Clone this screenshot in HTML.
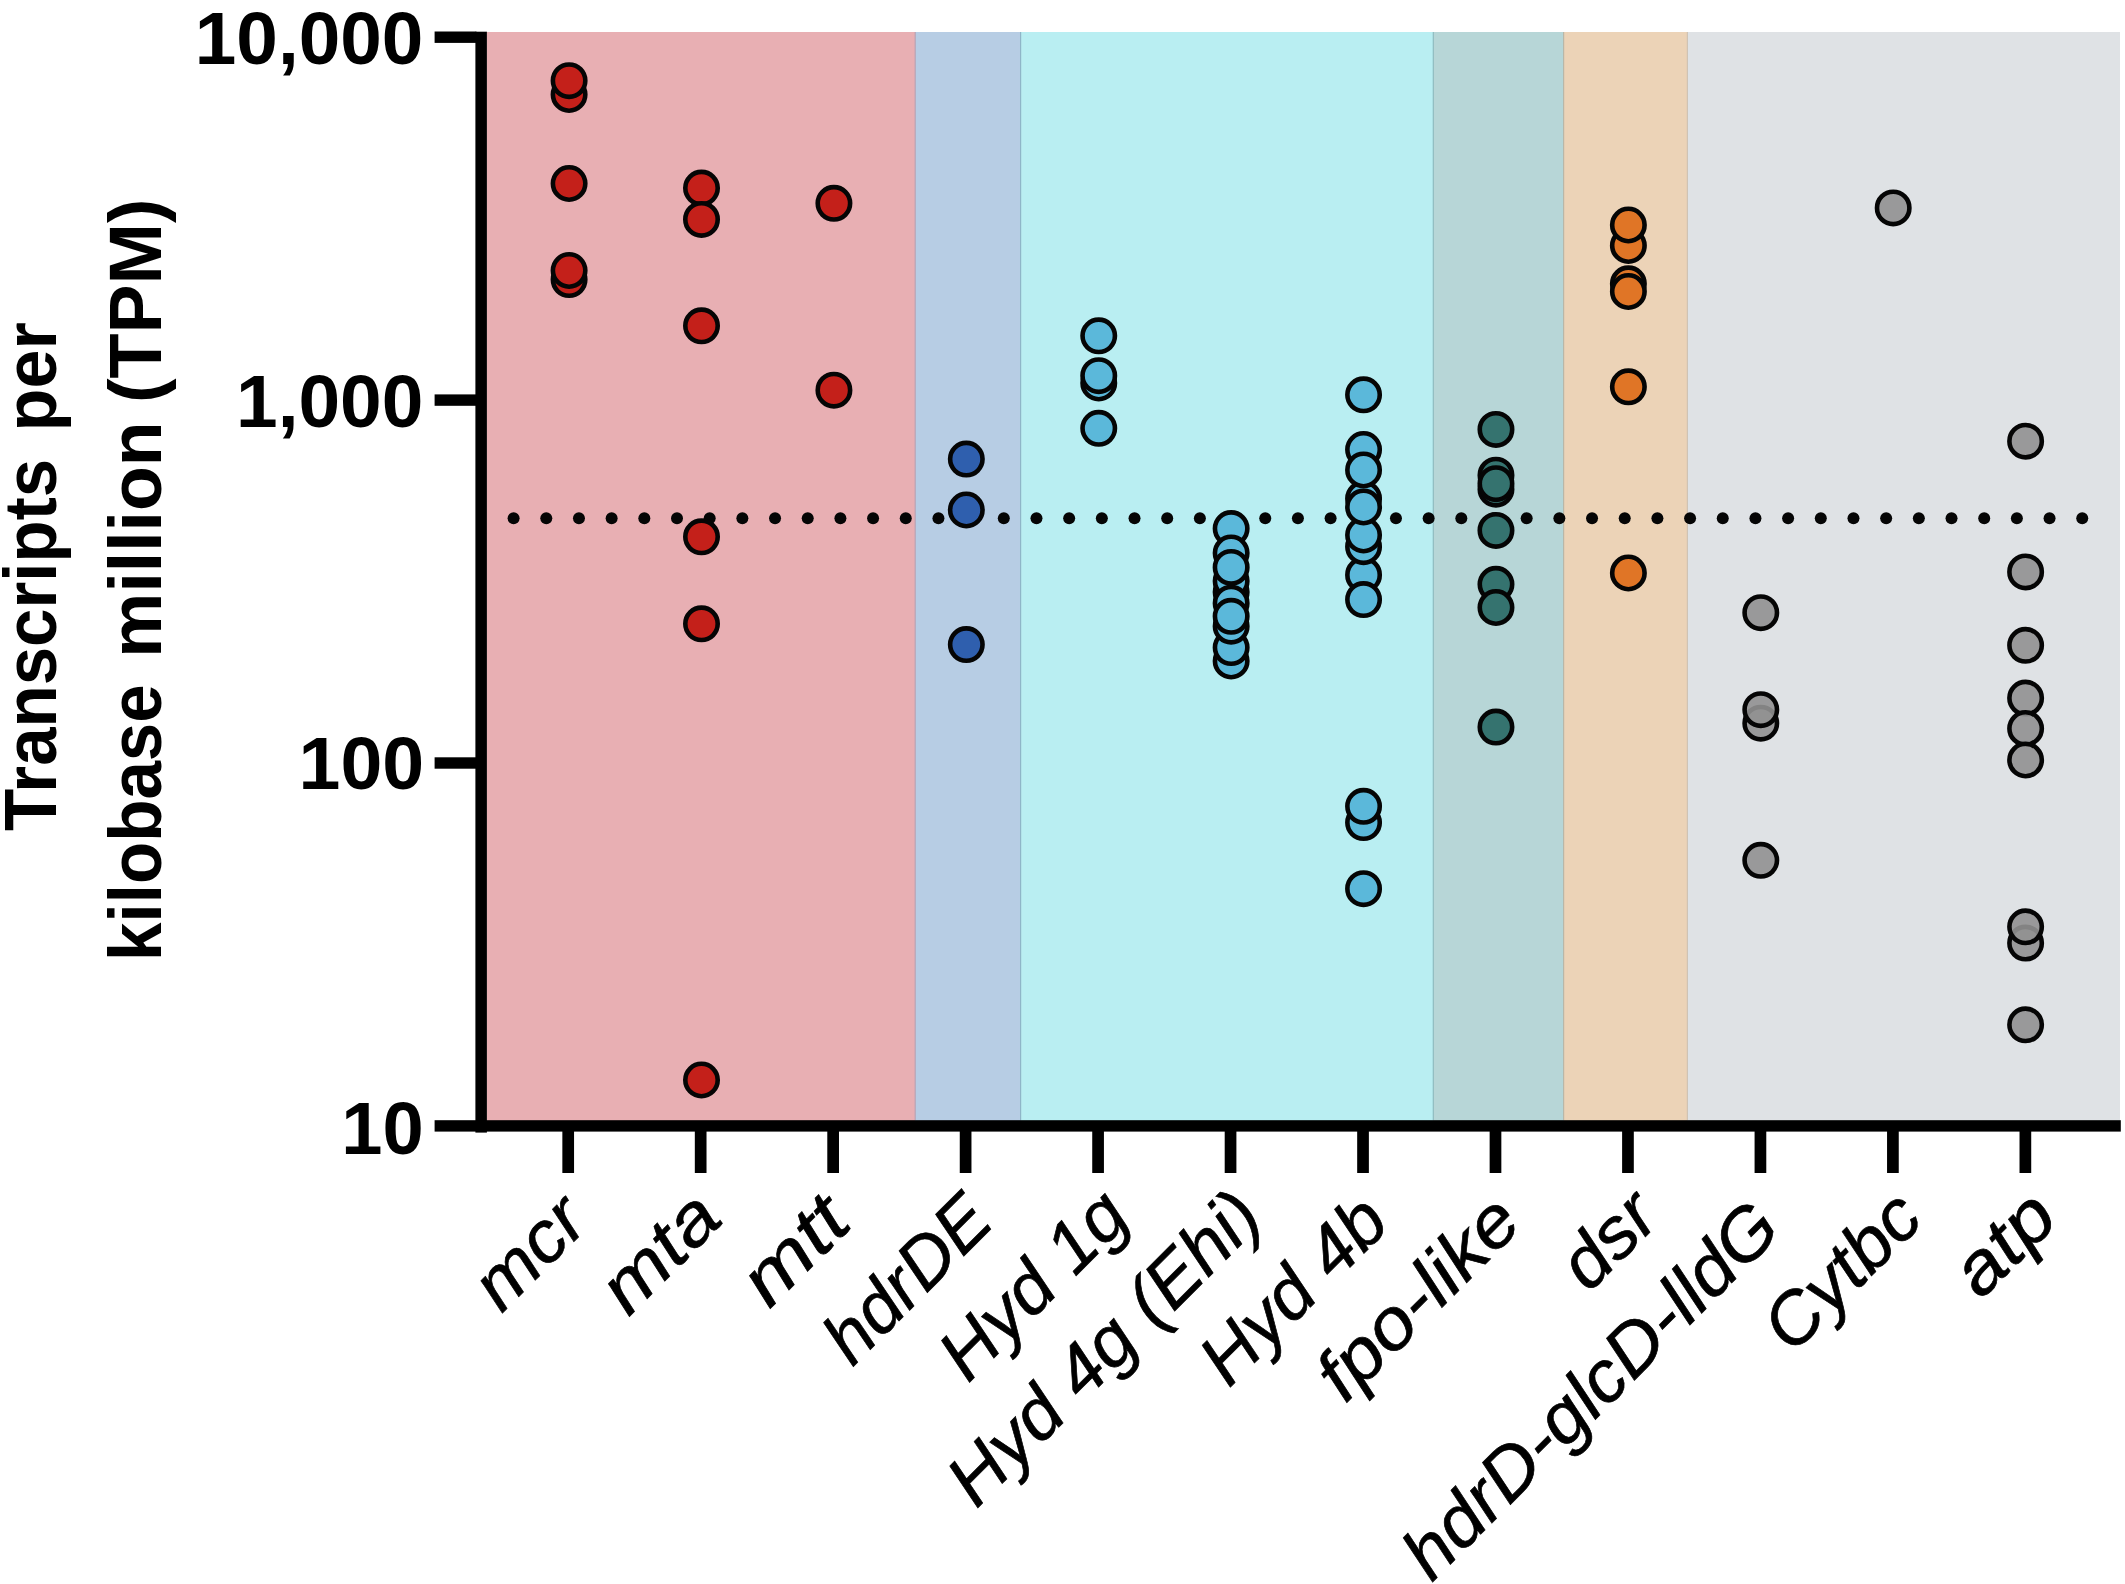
<!DOCTYPE html>
<html lang="en">
<head>
<meta charset="utf-8">
<title>Transcripts per kilobase million (TPM)</title>
<style>
html,body{margin:0;padding:0;background:#fff;}
body{width:2125px;height:1584px;overflow:hidden;}
svg{display:block;}
.tk{font-family:'Liberation Sans', sans-serif;font-weight:700;font-size:75px;fill:#000;}
.yt{font-family:'Liberation Sans', sans-serif;font-weight:700;font-size:75px;fill:#000;}
.xl{font-family:'Liberation Sans', sans-serif;font-style:italic;font-weight:400;font-size:72px;fill:#000;stroke:#000;stroke-width:0.7px;}
.d{stroke:#050505;stroke-width:4.6;}
</style>
</head>
<body>
<svg width="2125" height="1584" viewBox="0 0 2125 1584">
<rect x="0" y="0" width="2125" height="1584" fill="#ffffff"/>
<g shape-rendering="crispEdges">
<rect x="486.9" y="32" width="428.3" height="1090.2" fill="#e8afb3"/>
<rect x="915.2" y="32" width="105.4" height="1090.2" fill="#b7cde4"/>
<rect x="1020.6" y="32" width="412.7" height="1090.2" fill="#b9eef2"/>
<rect x="1433.3" y="32" width="130.3" height="1090.2" fill="#b7d6d7"/>
<rect x="1563.6" y="32" width="123.8" height="1090.2" fill="#ecd3b7"/>
<rect x="1687.4" y="32" width="432.8" height="1090.2" fill="#dfe2e5"/>
</g>
<rect x="914.6" y="32" width="1.2" height="1088.2" fill="#b9a3b4"/>
<rect x="1020" y="32" width="1.2" height="1088.2" fill="#8fb5c8"/>
<rect x="1432.7" y="32" width="1.2" height="1088.2" fill="#8fbcc0"/>
<rect x="1563" y="32" width="1.2" height="1088.2" fill="#b9b7a8"/>
<rect x="1686.8" y="32" width="1.2" height="1088.2" fill="#cfc3b4"/>
<g fill="#050505">
<circle cx="513.6" cy="518.2" r="6"/>
<circle cx="546.28" cy="518.2" r="6"/>
<circle cx="578.96" cy="518.2" r="6"/>
<circle cx="611.64" cy="518.2" r="6"/>
<circle cx="644.32" cy="518.2" r="6"/>
<circle cx="677" cy="518.2" r="6"/>
<circle cx="709.68" cy="518.2" r="6"/>
<circle cx="742.36" cy="518.2" r="6"/>
<circle cx="775.04" cy="518.2" r="6"/>
<circle cx="807.72" cy="518.2" r="6"/>
<circle cx="840.4" cy="518.2" r="6"/>
<circle cx="873.08" cy="518.2" r="6"/>
<circle cx="905.76" cy="518.2" r="6"/>
<circle cx="938.44" cy="518.2" r="6"/>
<circle cx="971.12" cy="518.2" r="6"/>
<circle cx="1003.8" cy="518.2" r="6"/>
<circle cx="1036.48" cy="518.2" r="6"/>
<circle cx="1069.16" cy="518.2" r="6"/>
<circle cx="1101.84" cy="518.2" r="6"/>
<circle cx="1134.52" cy="518.2" r="6"/>
<circle cx="1167.2" cy="518.2" r="6"/>
<circle cx="1199.88" cy="518.2" r="6"/>
<circle cx="1232.56" cy="518.2" r="6"/>
<circle cx="1265.24" cy="518.2" r="6"/>
<circle cx="1297.92" cy="518.2" r="6"/>
<circle cx="1330.6" cy="518.2" r="6"/>
<circle cx="1363.28" cy="518.2" r="6"/>
<circle cx="1395.96" cy="518.2" r="6"/>
<circle cx="1428.64" cy="518.2" r="6"/>
<circle cx="1461.32" cy="518.2" r="6"/>
<circle cx="1494" cy="518.2" r="6"/>
<circle cx="1526.68" cy="518.2" r="6"/>
<circle cx="1559.36" cy="518.2" r="6"/>
<circle cx="1592.04" cy="518.2" r="6"/>
<circle cx="1624.72" cy="518.2" r="6"/>
<circle cx="1657.4" cy="518.2" r="6"/>
<circle cx="1690.08" cy="518.2" r="6"/>
<circle cx="1722.76" cy="518.2" r="6"/>
<circle cx="1755.44" cy="518.2" r="6"/>
<circle cx="1788.12" cy="518.2" r="6"/>
<circle cx="1820.8" cy="518.2" r="6"/>
<circle cx="1853.48" cy="518.2" r="6"/>
<circle cx="1886.16" cy="518.2" r="6"/>
<circle cx="1918.84" cy="518.2" r="6"/>
<circle cx="1951.52" cy="518.2" r="6"/>
<circle cx="1984.2" cy="518.2" r="6"/>
<circle cx="2016.88" cy="518.2" r="6"/>
<circle cx="2049.56" cy="518.2" r="6"/>
<circle cx="2082.24" cy="518.2" r="6"/>
</g>
<g class="d" fill="#c4201a">
<circle cx="569.1" cy="94.5" r="16.2"/>
<circle cx="569.1" cy="80.7" r="16.2"/>
<circle cx="569.1" cy="183.5" r="16.2"/>
<circle cx="569.1" cy="279.6" r="16.2"/>
<circle cx="569.1" cy="270.5" r="16.2"/>
</g>
<g class="d" fill="#c4201a">
<circle cx="701.51" cy="188.1" r="16.2"/>
<circle cx="701.51" cy="219.4" r="16.2"/>
<circle cx="701.51" cy="325.8" r="16.2"/>
<circle cx="701.51" cy="536.8" r="16.2"/>
<circle cx="701.51" cy="623.8" r="16.2"/>
<circle cx="701.51" cy="1080" r="16.2"/>
</g>
<g class="d" fill="#c4201a">
<circle cx="833.92" cy="203.3" r="16.2"/>
<circle cx="833.92" cy="390.2" r="16.2"/>
</g>
<g class="d" fill="#2f5fae">
<circle cx="966.33" cy="459.1" r="16.2"/>
<circle cx="966.33" cy="510" r="16.2"/>
<circle cx="966.33" cy="644.6" r="16.2"/>
</g>
<g class="d" fill="#5bb8da">
<circle cx="1098.74" cy="335.8" r="16.2"/>
<circle cx="1098.74" cy="383" r="16.2"/>
<circle cx="1098.74" cy="375.7" r="16.2"/>
<circle cx="1098.74" cy="428.3" r="16.2"/>
</g>
<g class="d" fill="#5bb8da">
<circle cx="1231.15" cy="661" r="16.2"/>
<circle cx="1231.15" cy="647.6" r="16.2"/>
<circle cx="1231.15" cy="626.2" r="16.2"/>
<circle cx="1231.15" cy="528.6" r="16.2"/>
<circle cx="1231.15" cy="553" r="16.2"/>
<circle cx="1231.15" cy="592" r="16.2"/>
<circle cx="1231.15" cy="581" r="16.2"/>
<circle cx="1231.15" cy="603.2" r="16.2"/>
<circle cx="1231.15" cy="567.4" r="16.2"/>
<circle cx="1231.15" cy="616.3" r="16.2"/>
</g>
<g class="d" fill="#5bb8da">
<circle cx="1363.56" cy="394.8" r="16.2"/>
<circle cx="1363.56" cy="449.5" r="16.2"/>
<circle cx="1363.56" cy="498.6" r="16.2"/>
<circle cx="1363.56" cy="470" r="16.2"/>
<circle cx="1363.56" cy="574.9" r="16.2"/>
<circle cx="1363.56" cy="546.7" r="16.2"/>
<circle cx="1363.56" cy="535" r="16.2"/>
<circle cx="1363.56" cy="507" r="16.2"/>
<circle cx="1363.56" cy="599.6" r="16.2"/>
<circle cx="1363.56" cy="822.6" r="16.2"/>
<circle cx="1363.56" cy="806.3" r="16.2"/>
<circle cx="1363.56" cy="888.7" r="16.2"/>
</g>
<g class="d" fill="#35736f">
<circle cx="1495.97" cy="429.4" r="16.2"/>
<circle cx="1495.97" cy="475.2" r="16.2"/>
<circle cx="1495.97" cy="489.2" r="16.2"/>
<circle cx="1495.97" cy="483.7" r="16.2"/>
<circle cx="1495.97" cy="530.4" r="16.2"/>
<circle cx="1495.97" cy="584.3" r="16.2"/>
<circle cx="1495.97" cy="607.5" r="16.2"/>
<circle cx="1495.97" cy="727.1" r="16.2"/>
</g>
<g class="d" fill="#e07526">
<circle cx="1628.38" cy="245.5" r="16.2"/>
<circle cx="1628.38" cy="225" r="16.2"/>
<circle cx="1628.38" cy="283.8" r="16.2"/>
<circle cx="1628.38" cy="291.5" r="16.2"/>
<circle cx="1628.38" cy="386.8" r="16.2"/>
<circle cx="1628.38" cy="573" r="16.2"/>
</g>
<g class="d" fill="#919191" fill-opacity="0.9">
<circle cx="1760.79" cy="612.7" r="16.2"/>
<circle cx="1760.79" cy="723.2" r="16.2"/>
<circle cx="1760.79" cy="709.7" r="16.2"/>
<circle cx="1760.79" cy="860.3" r="16.2"/>
</g>
<g class="d" fill="#919191" fill-opacity="0.9">
<circle cx="1893.2" cy="207.9" r="16.2"/>
</g>
<g class="d" fill="#919191" fill-opacity="0.9">
<circle cx="2025.61" cy="441.2" r="16.2"/>
<circle cx="2025.61" cy="571.9" r="16.2"/>
<circle cx="2025.61" cy="645.3" r="16.2"/>
<circle cx="2025.61" cy="698.1" r="16.2"/>
<circle cx="2025.61" cy="728.5" r="16.2"/>
<circle cx="2025.61" cy="760" r="16.2"/>
<circle cx="2025.61" cy="943.1" r="16.2"/>
<circle cx="2025.61" cy="926.8" r="16.2"/>
<circle cx="2025.61" cy="1024.8" r="16.2"/>
</g>
<g fill="#000000">
<rect x="475.4" y="31.7" width="11.5" height="1100.9"/>
<rect x="434.6" y="1120.2" width="1686.2" height="11.4"/>
<rect x="434.6" y="31.5" width="41.8" height="11.4"/>
<rect x="434.6" y="394.4" width="41.8" height="11.4"/>
<rect x="434.6" y="757.3" width="41.8" height="11.4"/>
<rect x="562.35" y="1130.6" width="11.7" height="42.4"/>
<rect x="694.82" y="1130.6" width="11.7" height="42.4"/>
<rect x="827.29" y="1130.6" width="11.7" height="42.4"/>
<rect x="959.76" y="1130.6" width="11.7" height="42.4"/>
<rect x="1092.23" y="1130.6" width="11.7" height="42.4"/>
<rect x="1224.7" y="1130.6" width="11.7" height="42.4"/>
<rect x="1357.17" y="1130.6" width="11.7" height="42.4"/>
<rect x="1489.64" y="1130.6" width="11.7" height="42.4"/>
<rect x="1622.11" y="1130.6" width="11.7" height="42.4"/>
<rect x="1754.58" y="1130.6" width="11.7" height="42.4"/>
<rect x="1887.05" y="1130.6" width="11.7" height="42.4"/>
<rect x="2019.52" y="1130.6" width="11.7" height="42.4"/>
</g>
<text class="tk" x="194.8" y="63.8" textLength="228.5" lengthAdjust="spacingAndGlyphs">10,000</text>
<text class="tk" x="236" y="426.9" textLength="187.3" lengthAdjust="spacingAndGlyphs">1,000</text>
<text class="tk" x="298.6" y="789.3" textLength="125.6" lengthAdjust="spacingAndGlyphs">100</text>
<text class="tk" x="341.3" y="1153.8" textLength="82.5" lengthAdjust="spacingAndGlyphs">10</text>
<text class="yt" transform="translate(56.2 831.1) rotate(-90)" x="0" y="0" textLength="372.2" lengthAdjust="spacingAndGlyphs">Transcripts</text>
<text class="yt" transform="translate(56.2 431.4) rotate(-90)" x="0" y="0" textLength="109.1" lengthAdjust="spacingAndGlyphs">per</text>
<text class="yt" transform="translate(161.3 961) rotate(-90)" x="0" y="0" textLength="276.8" lengthAdjust="spacingAndGlyphs">kilobase</text>
<text class="yt" transform="translate(161.3 657.7) rotate(-90)" x="0" y="0" textLength="236.1" lengthAdjust="spacingAndGlyphs">million</text>
<text class="yt" transform="translate(161.3 403) rotate(-90)" x="0" y="0" textLength="204.4" lengthAdjust="spacingAndGlyphs">(TPM)</text>
<text class="xl" transform="translate(590.9 1224.5) rotate(-45)" x="-126.5" y="0" textLength="126.5" lengthAdjust="spacingAndGlyphs">mcr</text>
<text class="xl" transform="translate(724.8 1221.2) rotate(-45)" x="-136.3" y="0" textLength="136.3" lengthAdjust="spacingAndGlyphs">mta</text>
<text class="xl" transform="translate(854.1 1225) rotate(-45)" x="-120" y="0" textLength="120" lengthAdjust="spacingAndGlyphs">mtt</text>
<text class="xl" transform="translate(996.1 1223.9) rotate(-45)" x="-203.1" y="0" textLength="203.1" lengthAdjust="spacingAndGlyphs">hdrDE</text>
<text class="xl" transform="translate(1132.3 1219.7) rotate(-45)" x="-232.2" y="0" textLength="232.2" lengthAdjust="spacingAndGlyphs">Hyd 1g</text>
<text class="xl" transform="translate(1265.5 1220.3) rotate(-45)" x="-409" y="0" textLength="409" lengthAdjust="spacingAndGlyphs">Hyd 4g (Ehi)</text>
<text class="xl" transform="translate(1392 1225.5) rotate(-45)" x="-230.8" y="0" textLength="230.8" lengthAdjust="spacingAndGlyphs">Hyd 4b</text>
<text class="xl" transform="translate(1524.5 1225.1) rotate(-45)" x="-253.7" y="0" textLength="253.7" lengthAdjust="spacingAndGlyphs">fpo-like</text>
<text class="xl" transform="translate(1662.1 1220.2) rotate(-45)" x="-103.8" y="0" textLength="103.8" lengthAdjust="spacingAndGlyphs">dsr</text>
<text class="xl" transform="translate(1783.5 1231.4) rotate(-45)" x="-497.3" y="0" textLength="497.3" lengthAdjust="spacingAndGlyphs">hdrD-glcD-lldG</text>
<text class="xl" transform="translate(1926 1221.4) rotate(-45)" x="-189.2" y="0" textLength="189.2" lengthAdjust="spacingAndGlyphs">Cytbc</text>
<text class="xl" transform="translate(2060.8 1220.7) rotate(-45)" x="-113.2" y="0" textLength="113.2" lengthAdjust="spacingAndGlyphs">atp</text>
</svg>
</body>
</html>
